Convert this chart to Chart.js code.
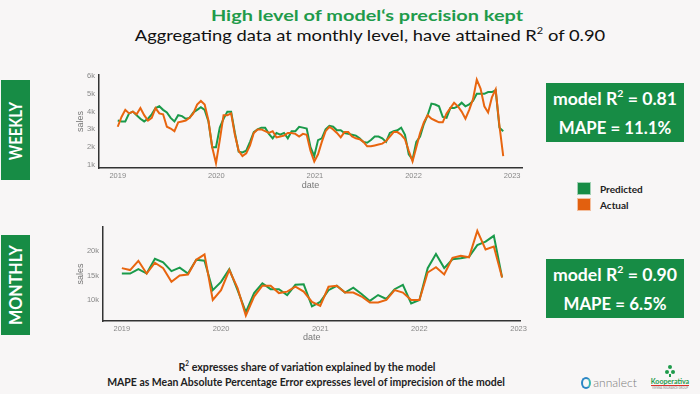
<!DOCTYPE html>
<html>
<head>
<meta charset="utf-8">
<script src="https://cdn.jsdelivr.net/npm/chart.js@4.4.1/dist/chart.umd.min.js"></script>
<style>
  html, body { margin: 0; padding: 0; }
  body { width: 700px; height: 394px; background: #f8f6f6; position: relative; overflow: hidden;
         font-family: Lato, "Open Sans", sans-serif; }
  .t { position: absolute; white-space: nowrap; line-height: 1; }
  .t sup { font-size: 0.6em; line-height: 0; vertical-align: 0.75em; }
  .box { position: absolute; background: #178c45; }
  canvas { position: absolute; }
  #wk { left: 75px; top: 65px; }
  #mo { left: 75px; top: 217px; }
  .sw { position: absolute; width: 14px; height: 13px; box-sizing: border-box; border: 1px solid rgba(255,255,255,.6); }
  .dot { position: absolute; width: 4px; height: 4px; border-radius: 50%; background: #1f9b4b; }
</style>
</head>
<body>

<div class="t" data-w="312" style="left:367px;top:15px;font-size:16px;font-weight:700;color:#1f9b4b">High level of model‘s precision kept</div>
<div class="t" data-w="470" style="left:370px;top:35px;font-size:16px;color:#111">Aggregating data at monthly level, have attained R<sup>2</sup> of 0.90</div>

<div class="box" style="left:1px;top:80px;width:29px;height:100px"></div>
<div class="t" data-w="58" data-rot="1" style="left:16px;top:131px;font-size:16.5px;font-weight:700;color:#fff">WEEKLY</div>
<div class="box" style="left:1px;top:235px;width:29px;height:100px"></div>
<div class="t" data-w="80" data-rot="1" style="left:16px;top:285px;font-size:16.5px;font-weight:700;color:#fff">MONTHLY</div>

<canvas id="wk" width="455" height="126"></canvas>
<canvas id="mo" width="455" height="126"></canvas>

<div class="box" style="left:546px;top:83px;width:138px;height:59px"></div>
<div class="t" data-w="124" style="left:615px;top:99px;font-size:16.5px;font-weight:700;color:#fff">model R<sup>2</sup> = 0.81</div>
<div class="t" data-w="113" style="left:615px;top:128px;font-size:16.5px;font-weight:700;color:#fff">MAPE = 11.1%</div>

<div class="sw" style="left:577px;top:182px;background:#178c45"></div>
<div class="sw" style="left:577px;top:198px;background:#e2600f"></div>
<div class="t" style="left:600px;top:184px;font-size:10px;font-weight:700;color:#222">Predicted</div>
<div class="t" style="left:600px;top:200px;font-size:10px;font-weight:700;color:#222">Actual</div>

<div class="box" style="left:546px;top:259px;width:138px;height:59px"></div>
<div class="t" data-w="124" style="left:615px;top:275px;font-size:16.5px;font-weight:700;color:#fff">model R<sup>2</sup> = 0.90</div>
<div class="t" data-w="103" style="left:615px;top:304px;font-size:16.5px;font-weight:700;color:#fff">MAPE = 6.5%</div>

<div class="t" data-w="257" style="left:307px;top:366px;font-size:11px;font-weight:700;color:#222">R<sup>2</sup> expresses share of variation explained by the model</div>
<div class="t" data-w="398" style="left:306px;top:381px;font-size:11px;font-weight:700;color:#222">MAPE as Mean Absolute Percentage Error expresses level of imprecision of the model</div>

<!-- logos -->
<div style="position:absolute;left:581px;top:377px;width:6px;height:8px;border-radius:50%;border:2.5px solid #2b86c5;border-right-color:#35b8b0"></div>
<div class="t" data-w="44" style="left:615px;top:383px;font-size:12px;font-weight:300;color:#7a7a7a">annalect</div>
<div class="dot" style="left:668px;top:365px"></div>
<div class="dot" style="left:665px;top:370px"></div>
<div class="dot" style="left:671px;top:370px"></div>
<div style="position:absolute;left:669px;top:374px;width:2px;height:3px;background:#1f9b4b"></div>
<div class="t" data-w="38" style="left:670px;top:381px;font-size:8px;font-weight:700;color:#1f9b4b">Kooperativa</div>
<div style="position:absolute;left:651px;top:385px;width:38px;height:1px;background:#d8322b"></div>
<div class="t" data-w="36" style="left:670px;top:388px;font-size:3px;color:#888">VIENNA INSURANCE GROUP</div>

<script>
const GREEN = "#1a9a4a";
const ORANGE = "#e8650f";

/* ---------------- data (sales, thousands) ---------------- */
const yearTicks = [2019, 2020, 2021, 2022, 2023];
const weeklyTicks = [1, 2, 3, 4, 5, 6];
const monthlyTicks = [10, 15, 20];

// fortnightly readings from 2019-01-01
const weeklyStart = 2019;
const weeklyStepDays = 14;
const weeklyActual = [
  3.15, 3.7, 4.1, 3.9, 4.0, 3.85, 4.2, 3.8, 3.5, 3.65,
  4.2, 3.9, 3.85, 3.15, 3.05, 2.9, 3.4, 3.45, 3.5, 3.65,
  3.9, 4.4, 4.6, 4.4, 3.5, 2.0, 1.1, 2.4, 3.8, 3.8,
  3.9, 2.7, 1.8, 1.5, 1.65, 2.1, 2.8, 3.0, 3.0, 2.9,
  2.8, 2.9, 2.55, 2.6, 2.65, 2.8, 2.8, 2.75, 2.6, 2.75,
  2.7, 1.8, 1.2, 1.6, 2.3, 2.9, 3.15, 3.0, 2.8, 2.55,
  2.85, 2.85, 2.6, 2.5, 2.45, 2.3, 2.05, 2.05, 2.1, 2.15,
  2.2, 2.35, 2.6, 2.85, 2.85, 2.7, 2.45, 1.8, 1.2, 2.0,
  2.8, 3.4, 3.8, 3.6, 3.5, 3.4, 3.4, 3.9, 4.2, 4.5,
  4.3, 4.0, 3.6, 4.1, 4.7, 5.8, 5.3, 4.3, 3.95, 4.8,
  5.25, 3.2, 1.5
];
const weeklyPredicted = [
  3.5, 3.45, 3.45, 3.9, 4.0, 3.8, 3.6, 3.45, 3.6, 3.85,
  4.2, 4.3, 4.1, 3.95, 3.65, 3.45, 3.8, 3.75, 3.6, 3.65,
  3.95, 4.1, 4.25, 4.1, 3.45, 2.0, 2.0, 3.1, 3.6, 4.0,
  4.0, 2.8, 1.75, 1.7, 1.8, 2.3, 2.85, 3.0, 3.1, 3.1,
  2.75, 2.5, 2.8, 2.7, 2.8, 2.5, 2.9, 2.9, 3.15, 3.1,
  3.05, 2.0, 1.5, 2.4, 2.5, 3.0, 3.2, 3.15, 2.95, 2.95,
  2.8, 2.75, 2.7, 2.65, 2.5, 2.3, 2.25, 2.4, 2.6, 2.6,
  2.5, 2.3, 2.8, 2.9, 2.95, 3.1, 2.7, 1.6, 1.3, 2.3,
  2.6, 3.3, 3.8, 4.45, 4.4, 4.3, 3.7, 3.65, 4.2, 4.2,
  4.3, 4.5, 4.3, 4.4, 4.6, 5.0, 5.0, 5.0, 5.1, 5.1,
  5.2, 3.1, 2.9
];

// monthly, Jan 2019 .. Nov 2022
const monthlyStart = 2019;
const monthlyActual = [
  16.5, 16.1, 18.0, 15.4, 17.6, 16.5, 13.7, 15.0, 15.2, 18.2,
  19.3, 10.0, 12.0, 16.1, 12.4, 6.8, 10.7, 12.9, 12.9, 11.4,
  11.7, 12.7, 11.7, 9.6, 8.8, 12.7, 12.9, 11.5, 11.5, 10.7,
  9.5, 9.5, 10.0, 12.0, 11.5, 10.0, 10.0, 15.6, 16.7, 15.2,
  18.6, 19.0, 18.7, 24.1, 20.3, 20.9, 14.6
];
const monthlyPredicted = [
  15.4, 15.4, 16.3, 15.4, 18.4, 17.7, 15.9, 16.6, 15.4, 18.2,
  18.0, 12.0, 13.7, 16.3, 12.0, 7.5, 11.4, 13.4, 12.2, 12.2,
  11.0, 13.1, 13.2, 8.7, 9.6, 12.0, 12.9, 11.5, 12.5, 11.2,
  9.8, 11.0, 10.2, 12.2, 13.1, 9.3, 10.0, 16.5, 19.4, 16.5,
  18.3, 18.5, 18.8, 21.2, 21.9, 23.1, 14.6
];

/* ---------------- helpers ---------------- */
const weekly = vals => vals.map((y, i) => ({ x: weeklyStart + i * weeklyStepDays / 365.25, y }));
const monthly = vals => vals.map((y, i) => ({ x: monthlyStart + i / 12, y }));

const tickFont = { family: "Liberation Sans", size: 7.5 };
const titleFont = { family: "Liberation Sans", size: 9 };

function makeChart(id, actual, predicted, o){
  return new Chart(document.getElementById(id), {
    type: "line",
    data: { datasets: [
      { label: "Actual", data: actual, borderColor: ORANGE, borderWidth: 2, pointRadius: 0, tension: 0 },
      { label: "Predicted", data: predicted, borderColor: GREEN, borderWidth: 2, pointRadius: 0, tension: 0 },
    ]},
    options: {
      responsive: false, animation: false, devicePixelRatio: 1,
      layout: { padding: { top: 10, right: 8, left: 0, bottom: 0 } },
      plugins: { legend: { display: false }, tooltip: { enabled: false } },
      scales: {
        x: {
          type: "linear", min: o.xMin, max: o.xMax,
          grid: { display: false, drawTicks: false },
          border: { color: "#333", width: 1.5 },
          afterBuildTicks: s => { s.ticks = yearTicks.map(v => ({ value: v })); },
          afterFit: s => { s.height = o.xH; },
          ticks: { color: "#888", font: tickFont, padding: 3, maxRotation: 0, autoSkip: false, callback: v => String(v) },
          title: { display: true, text: "date", color: "#777", font: titleFont, padding: 0 },
        },
        y: {
          min: o.yMin, max: o.yMax,
          grid: { display: false, drawTicks: false },
          border: { color: "#333", width: 1.5 },
          afterBuildTicks: s => { s.ticks = o.yTicks.map(v => ({ value: v })); },
          afterFit: s => { s.width = o.yW; },
          ticks: { color: "#888", font: tickFont, padding: 4, callback: v => v + "k" },
          title: { display: true, text: "sales", color: "#777", font: titleFont, padding: 0 },
        },
      },
    },
  });
}

makeChart("wk", weekly(weeklyActual), weekly(weeklyPredicted),
  { xMin: 2018.81, xMax: 2023.10, yMin: 0.83, yMax: 6.06, yTicks: weeklyTicks, yW: 24, xH: 23 });
makeChart("mo", monthly(monthlyActual), monthly(monthlyPredicted),
  { xMin: 2018.81, xMax: 2023.02, yMin: 5.7, yMax: 24.9, yTicks: monthlyTicks, yW: 28, xH: 22 });

/* ---------------- text fitting ---------------- */
document.querySelectorAll(".t").forEach(el => {
  const rot = el.dataset.rot ? " rotate(-90deg)" : "";
  const w = +el.dataset.w;
  if (!w) return;
  const k = w / el.offsetWidth;
  el.style.transform = `translate(-50%,-50%)${rot} scaleX(${k.toFixed(3)})`;
});
</script>
</body>
</html>
